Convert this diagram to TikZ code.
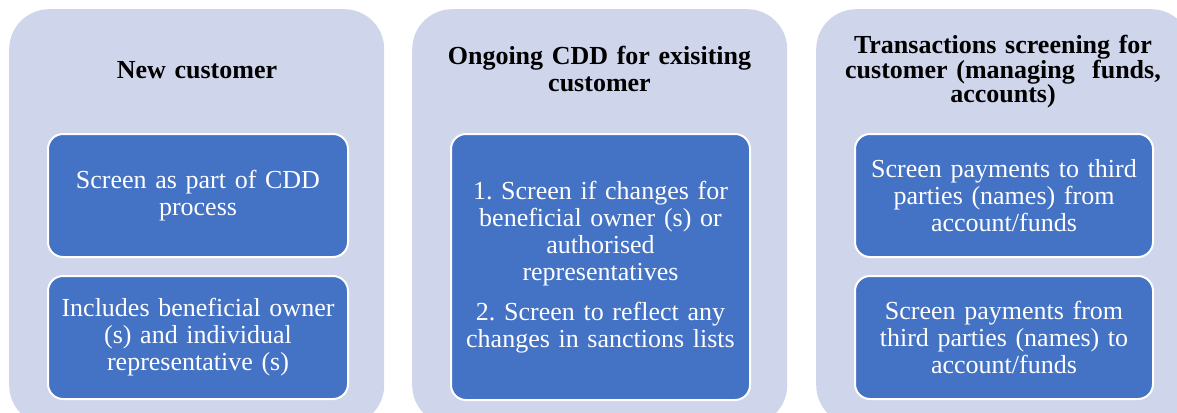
\documentclass[tikz,border=0pt]{standalone}
\usepackage{fontspec}
\setmainfont{Liberation Serif}
\definecolor{lav}{HTML}{CFD5EA}
\definecolor{bbox}{HTML}{4472C4}
\frenchspacing
\begin{document}
\frenchspacing
\begin{tikzpicture}[x=1pt,y=-1pt,
  col/.style={fill=lav, rounded corners=40pt, minimum width=375pt, minimum height=416pt, anchor=north west, inner sep=0pt},
  title/.style={font=\bfseries\fontsize{26}{27}\selectfont\frenchspacing, text width=370pt, align=center, anchor=base, inner sep=0pt},
  item/.style={draw=white, line width=2pt, fill=bbox, rounded corners=15pt, anchor=north west, text=white, text width=288pt, align=center, inner sep=0pt, font=\fontsize{26}{27}\selectfont\frenchspacing}]
\useasboundingbox (0,0) rectangle (1177,412);
\begin{scope}
\clip (0,0) rectangle (1177,412);
\node[col] (c1) at (9,9) {};
\node[col] (c2) at (412,9) {};
\node[col] (c3) at (816,9) {};
\end{scope}
\node[title] (t1) at (197,78) {New customer};
\node[title] (t2) at (599.5,65) {Ongoing CDD for exisiting\\customer};
\node[title, font=\bfseries\fontsize{26}{24}\selectfont] (t3) at (1003,53) {Transactions screening for\\customer (managing\ \ funds,\\accounts)};
\node[item, minimum width=300pt, minimum height=123pt] (b11) at (47,133) {Screen as part of CDD\\process};
\node[item, minimum width=300pt, minimum height=123pt] (b12) at (47,275) {Includes beneficial owner\\(s) and individual\\representative (s)};
\node[item, minimum width=299pt, minimum height=266pt] (b21) at (450,133) {1. Screen if changes for\\beneficial owner (s) or\\authorised\\representatives\\[13pt]2. Screen to reflect any\\changes in sanctions lists};
\node[item, minimum width=298pt, minimum height=123pt] (b31) at (854,133) {Screen payments to third\\parties (names) from\\account/funds};
\node[item, minimum width=298pt, minimum height=123pt] (b32) at (854,275) {Screen payments from\\third parties (names) to\\account/funds};
\end{tikzpicture}
\end{document}
